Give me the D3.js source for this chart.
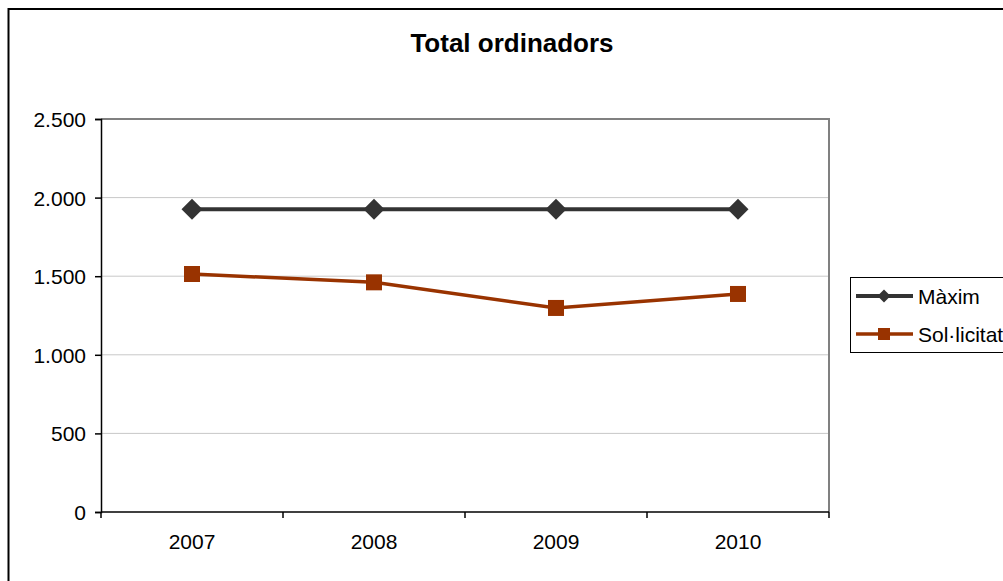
<!DOCTYPE html>
<html>
<head>
<meta charset="utf-8">
<script src="https://cdnjs.cloudflare.com/ajax/libs/d3/7.8.5/d3.min.js"></script>
<style>
  body { margin: 0; background: #fff; }
  svg { display: block; font-family: "Liberation Sans", Arial, sans-serif; }
</style>
</head>
<body>
<div id="chart"></div>
<script>
// data
var years = ["2007", "2008", "2009", "2010"];
var maxim = [1926, 1926, 1926, 1926];
var solicitat = [1514, 1461, 1298, 1387];
var yTicks = [0, 500, 1000, 1500, 2000, 2500];

var W = 1003, H = 581;
var plot = { left: 101, top: 119, right: 829, bottom: 512 };

var svg = d3.select("#chart").append("svg")
  .attr("width", W)
  .attr("height", H);

// outer chart frame (runs off the right / bottom edge)
svg.append("rect")
  .attr("x", 8.5).attr("y", 9)
  .attr("width", W + 20).attr("height", H + 20)
  .attr("fill", "#fff")
  .attr("stroke", "#000")
  .attr("stroke-width", 2);

svg.append("text")
  .attr("x", 512).attr("y", 52)
  .attr("text-anchor", "middle")
  .attr("font-size", 26)
  .attr("font-weight", "bold")
  .text("Total ordinadors");

var x = d3.scaleBand().domain(years).range([plot.left, plot.right]);
var y = d3.scaleLinear().domain([0, 2500]).range([plot.bottom, plot.top]);

// gridlines
svg.append("g")
  .selectAll("line")
  .data(yTicks.filter(function (d) { return d > 0 && d < 2500; }))
  .enter().append("line")
  .attr("x1", plot.left).attr("x2", plot.right)
  .attr("y1", function (d) { return y(d); })
  .attr("y2", function (d) { return y(d); })
  .attr("stroke", "#c8c8c8")
  .attr("stroke-width", 1);

// top / right border of plot area
svg.append("path")
  .attr("d", "M" + plot.left + "," + plot.top + "H" + plot.right + "V" + plot.bottom)
  .attr("fill", "none")
  .attr("stroke", "#808080")
  .attr("stroke-width", 2);

var fmt = function (d) { return d3.format(",")(d).replace(/,/g, "."); };

// y axis
var yAxis = svg.append("g")
  .attr("transform", "translate(" + plot.left + ",0)")
  .call(d3.axisLeft(y).tickValues(yTicks).tickFormat(fmt).tickSize(6).tickPadding(9));
yAxis.select(".domain").attr("stroke", "#000").attr("stroke-width", 1.5);
yAxis.selectAll(".tick line").attr("stroke", "#000").attr("stroke-width", 1.5);
yAxis.selectAll("text").attr("font-size", 21).attr("fill", "#000")
  .attr("font-family", "Liberation Sans, Arial, sans-serif")
  .attr("dy", "0.36em");

// x axis: ticks on category boundaries
var xAxis = svg.append("g")
  .attr("transform", "translate(0," + plot.bottom + ")");
xAxis.append("line")
  .attr("x1", plot.left).attr("x2", plot.right)
  .attr("stroke", "#000").attr("stroke-width", 1.5);
var bounds = years.map(function (d) { return x(d); }).concat([plot.right]);
xAxis.selectAll(".xt").data(bounds).enter().append("line")
  .attr("x1", function (d) { return d; }).attr("x2", function (d) { return d; })
  .attr("y1", 0).attr("y2", 6)
  .attr("stroke", "#000").attr("stroke-width", 1.5);
xAxis.selectAll(".xl").data(years).enter().append("text")
  .attr("x", function (d) { return x(d) + x.bandwidth() / 2; })
  .attr("y", 37)
  .attr("text-anchor", "middle")
  .attr("font-size", 21)
  .text(function (d) { return d; });

var cx = function (d, i) { return x(years[i]) + x.bandwidth() / 2; };
var line = d3.line().x(cx).y(function (d) { return y(d); });

// Sol·licitat series
svg.append("path")
  .datum(solicitat)
  .attr("d", line)
  .attr("fill", "none")
  .attr("stroke", "#993300")
  .attr("stroke-width", 3.5);
svg.selectAll(".sq").data(solicitat).enter().append("rect")
  .attr("x", function (d, i) { return cx(d, i) - 8; })
  .attr("y", function (d) { return y(d) - 8; })
  .attr("width", 16).attr("height", 16)
  .attr("fill", "#993300");

// Màxim series
svg.append("path")
  .datum(maxim)
  .attr("d", line)
  .attr("fill", "none")
  .attr("stroke", "#333333")
  .attr("stroke-width", 4);
var diamond = d3.symbol().type(d3.symbolDiamond2 || d3.symbolDiamond).size(220);
svg.selectAll(".dm").data(maxim).enter().append("path")
  .attr("d", d3.symbol().type(d3.symbolSquare).size(220))
  .attr("transform", function (d, i) { return "translate(" + cx(d, i) + "," + y(d) + ") rotate(45)"; })
  .attr("fill", "#333333");

// legend
var lg = svg.append("g");
lg.append("rect")
  .attr("x", 850.5).attr("y", 277.5)
  .attr("width", 170).attr("height", 75)
  .attr("fill", "#fff")
  .attr("stroke", "#000")
  .attr("stroke-width", 1);

var legendItems = [
  { name: "Màxim", color: "#333333", shape: "diamond", y: 296 },
  { name: "Sol·licitat", color: "#993300", shape: "square", y: 334 }
];
legendItems.forEach(function (it) {
  lg.append("line")
    .attr("x1", 856).attr("x2", 913)
    .attr("y1", it.y).attr("y2", it.y)
    .attr("stroke", it.color)
    .attr("stroke-width", it.shape === "diamond" ? 4 : 3.5);
  if (it.shape === "diamond") {
    lg.append("path")
      .attr("d", d3.symbol().type(d3.symbolSquare).size(85))
      .attr("transform", "translate(884," + it.y + ") rotate(45)")
      .attr("fill", it.color);
  } else {
    lg.append("rect")
      .attr("x", 878).attr("y", it.y - 6)
      .attr("width", 12).attr("height", 12)
      .attr("fill", it.color);
  }
  lg.append("text")
    .attr("x", 918).attr("y", it.y + 7.5)
    .attr("font-size", 21)
    .text(it.name);
});
</script>
</body>
</html>
